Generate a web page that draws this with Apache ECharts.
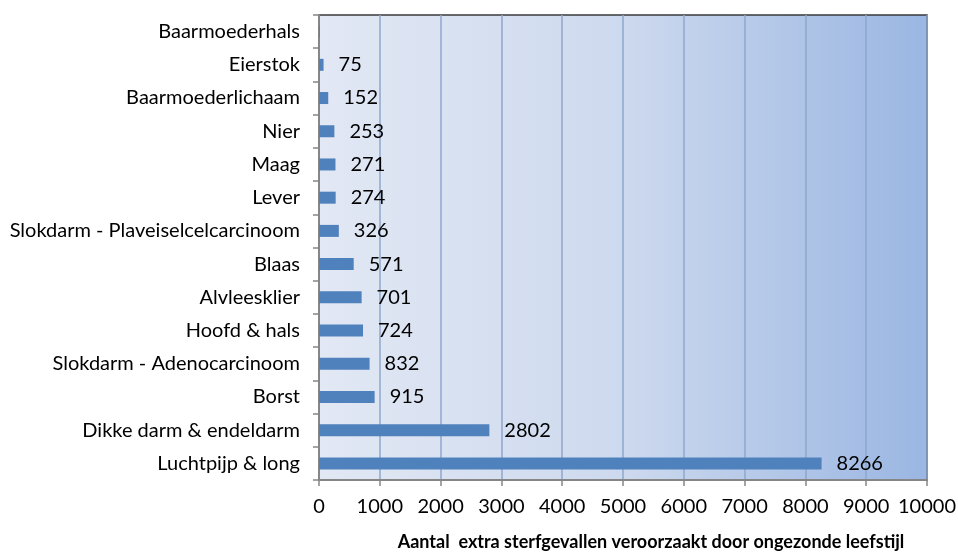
<!DOCTYPE html>
<html><head><meta charset="utf-8">
<script src="https://cdn.jsdelivr.net/npm/echarts@6/dist/echarts.min.js"></script>
<style>html,body{margin:0;padding:0;background:#fff}#c{width:958px;height:552px}</style>
</head><body><div id="c"></div>
<script>
const categories = ["Luchtpijp & long","Dikke darm & endeldarm","Borst","Slokdarm - Adenocarcinoom","Hoofd & hals","Alvleesklier","Blaas","Slokdarm - Plaveiselcelcarcinoom","Lever","Maag","Nier","Baarmoederlichaam","Eierstok","Baarmoederhals"];
const values = [8266,2802,915,832,724,701,571,326,274,271,253,152,75,15];
const showLabel = [true,true,true,true,true,true,true,true,true,true,true,true,true,false];
const xTicks = {min:0,max:10000,interval:1000};
const xTitle = "Aantal  extra sterfgevallen veroorzaakt door ongezonde leefstijl";
const font = "Lato, 'Open Sans', sans-serif";
const chart = echarts.init(document.getElementById('c'));
chart.setOption({
  animation:false,
  grid:{left:319,right:31,top:15,bottom:72,outerBoundsMode:'none',containLabel:false,show:true,borderColor:'#3a3a3a',borderWidth:1.5,
    backgroundColor:new echarts.graphic.LinearGradient(0,0,1,0,[{offset:0,color:'#e2e8f4'},{offset:0.5,color:'#cdd9ee'},{offset:1,color:'#9ab6e2'}])},
  xAxis:{type:'value',min:xTicks.min,max:xTicks.max,interval:xTicks.interval,
    name:xTitle,nameLocation:'middle',nameGap:53,
    nameTextStyle:{fontFamily:font,fontSize:18,fontWeight:'bold',color:'#000',padding:[0,0,0,56]},
    axisLine:{show:true,lineStyle:{color:'#868686',width:2}},
    axisTick:{show:true,length:6,lineStyle:{color:'#868686',width:1.5}},
    axisLabel:{fontFamily:font,fontSize:20,color:'#000',margin:17,formatter:v=>String(v)},
    splitLine:{show:true,lineStyle:{color:'#8ea7cc',width:1.5}}},
  yAxis:{type:'category',data:categories,
    axisLine:{show:true,lineStyle:{color:'#868686',width:2}},
    axisTick:{show:true,length:6,lineStyle:{color:'#868686',width:1.5}},
    axisLabel:{fontFamily:font,fontSize:20,color:'#000',margin:19}},
  series:[{type:'bar',data:values.map((v,i)=>({value:v,label:{show:showLabel[i]}})),
    barWidth:12,itemStyle:{color:'#4f81bd'},
    label:{position:'right',distance:15,fontFamily:font,fontSize:20,color:'#000'}}]
});
</script></body></html>
